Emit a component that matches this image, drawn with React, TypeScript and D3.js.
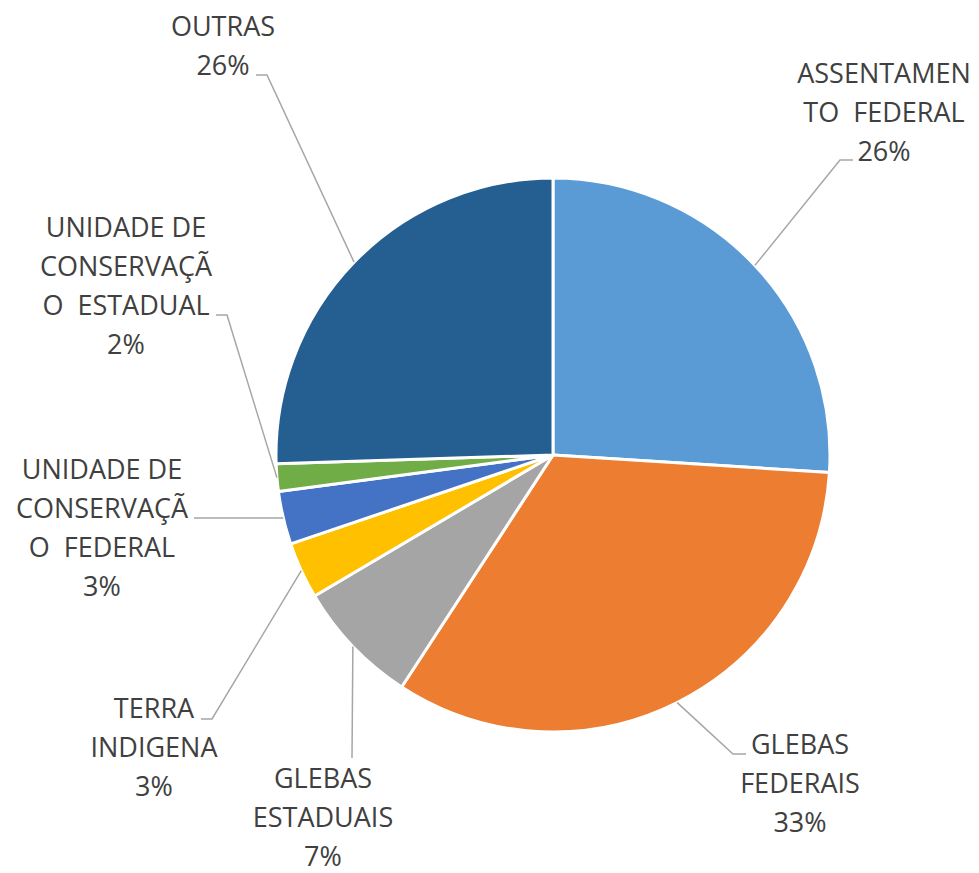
import React from 'react';
import * as d3 from 'd3';

// slices, clockwise from 12 o'clock
const categories = [
  'ASSENTAMENTO FEDERAL',
  'GLEBAS FEDERAIS',
  'GLEBAS ESTADUAIS',
  'TERRA INDIGENA',
  'UNIDADE DE CONSERVAÇÃO FEDERAL',
  'UNIDADE DE CONSERVAÇÃO ESTADUAL',
  'OUTRAS',
];
// label text as wrapped in the original
const labelLines = [
  ['ASSENTAMEN', 'TO  FEDERAL'],
  ['GLEBAS', 'FEDERAIS'],
  ['GLEBAS', 'ESTADUAIS'],
  ['TERRA', 'INDIGENA'],
  ['UNIDADE DE', 'CONSERVAÇÃ', 'O  FEDERAL'],
  ['UNIDADE DE', 'CONSERVAÇÃ', 'O  ESTADUAL'],
  ['OUTRAS'],
];
const values = [26.0, 33.2, 7.3, 3.3, 3.1, 1.6, 25.5];
const colors = ['#5B9BD5', '#ED7D31', '#A5A5A5', '#FFC000', '#4472C4', '#70AD47', '#255E91'];

// label placement (text centre x, first baseline) and leader elbow / end
const labelLayout = [
  { x: 884, y: 83, elbow: [840, 160], end: [853, 160] },
  { x: 800, y: 754, elbow: [733, 754], end: [746, 754] },
  { x: 323, y: 788, elbow: [352, 758], end: [352, 758] },
  { x: 154, y: 718, elbow: [212, 719], end: [201, 719] },
  { x: 102, y: 479, elbow: [205, 518], end: [194, 518] },
  { x: 126, y: 237, elbow: [227, 315], end: [216, 315] },
  { x: 223, y: 36, elbow: [267, 75], end: [256, 75] },
];

const width = 979;
const height = 873;
const cx = 553;
const cy = 455;
const radius = 277;
const lineH = 39;

const App = () => {
  const total = d3.sum(values);
  const pie = d3.pie<number>().sort(null).value((d) => d);
  const arcs = pie(values);
  const arc = d3.arc<d3.PieArcDatum<number>>().innerRadius(0).outerRadius(radius);
  const edge = d3.arc<d3.PieArcDatum<number>>().innerRadius(radius).outerRadius(radius);

  return (
    <svg
      width={width}
      height={height}
      style={{ position: 'absolute', left: 0, top: 0, background: '#fff' }}
      fontFamily="'Open Sans', sans-serif"
    >
      <g transform={`translate(${cx},${cy})`}>
        {arcs.map((a, i) => (
          <path key={categories[i]} d={arc(a) || ''} fill={colors[i]} stroke="#fff" strokeWidth={3} strokeLinejoin="round" />
        ))}
      </g>
      {arcs.map((a, i) => {
        const [px, py] = edge.centroid(a);
        const l = labelLayout[i];
        return (
          <polyline
            key={'lead' + i}
            points={`${cx + px},${cy + py} ${l.elbow[0]},${l.elbow[1]} ${l.end[0]},${l.end[1]}`}
            fill="none"
            stroke="#A6A6A6"
            strokeWidth={1.5}
          />
        );
      })}
      {labelLines.map((lines, i) => {
        const l = labelLayout[i];
        const pct = Math.round((values[i] / total) * 100) + '%';
        return (
          <text
            key={'lab' + i}
            x={l.x}
            y={l.y}
            textAnchor="middle"
            fontSize={27}
            fill="#404040"
            style={{ whiteSpace: 'pre' }}
          >
            {[...lines, pct].map((t, j) => (
              <tspan key={j} x={l.x} y={l.y + j * lineH}>
                {t}
              </tspan>
            ))}
          </text>
        );
      })}
    </svg>
  );
};

export default App;
